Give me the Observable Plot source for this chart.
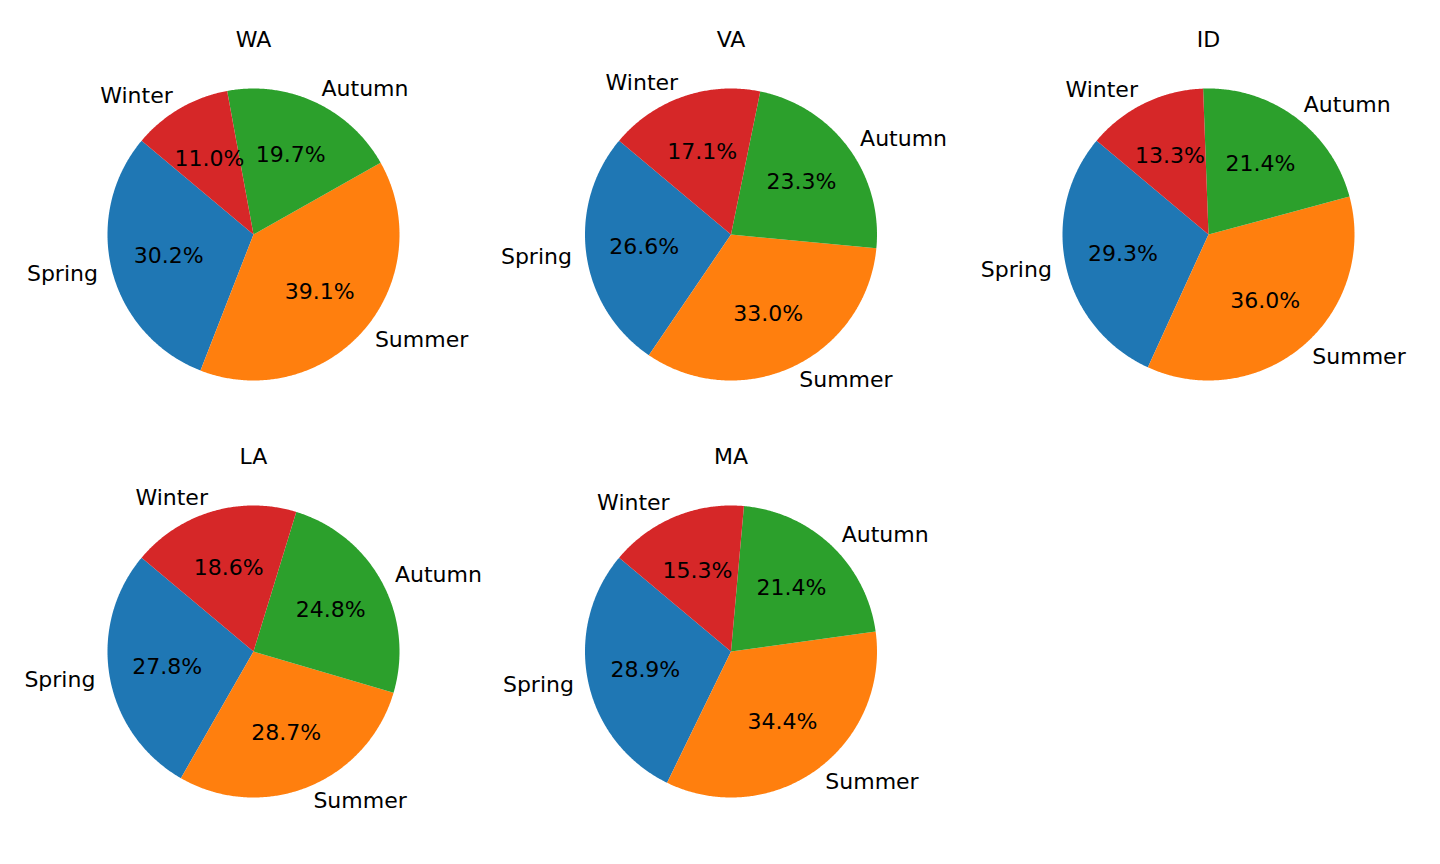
<!DOCTYPE html>
<html>
<head>
<meta charset="utf-8">
<script src="https://cdn.jsdelivr.net/npm/d3@7"></script>
<script src="https://cdn.jsdelivr.net/npm/@observablehq/plot@0.6"></script>
<style>
  html, body { margin: 0; padding: 0; background: white; }
  #chart svg { display: block; }
</style>
</head>
<body>
<div id="chart"></div>
<script>
// ---- Data ----
const states = ["WA", "VA", "ID", "LA", "MA"];
const seasons = ["Spring", "Summer", "Autumn", "Winter"];
const spring = [30.2, 26.6, 29.3, 27.8, 28.9];
const summer = [39.1, 33.0, 36.0, 28.7, 34.4];
const autumn = [19.7, 23.3, 21.4, 24.8, 21.4];
const winter = [11.0, 17.1, 13.3, 18.6, 15.3];
const colors = ["#1f77b4", "#ff7f0e", "#2ca02c", "#d62728"];

// ---- Layout (matplotlib-like 2x3 grid) ----
const W = 1440, H = 864;
const ncols = 3;
const x0 = 253, dxCol = 477.5;
const y0 = 234, dyRow = 417;
const R = 146;
const startAngle = 140; // degrees, counter-clockwise

const seriesVals = [spring, summer, autumn, winter];

const slicePts = [];
const labels = [];
const pcts = [];
const titles = [];

states.forEach((st, i) => {
  const col = i % ncols, row = Math.floor(i / ncols);
  const cx = x0 + col * dxCol, cy = y0 + row * dyRow;
  const vals = seriesVals.map(s => s[i]);
  const total = d3.sum(vals);
  let a = startAngle;
  titles.push({x: cx, y: cy - 1.25 * R - 12, text: st});
  vals.forEach((v, k) => {
    const span = 360 * v / total;
    const a1 = a, a2 = a + span;
    const id = st + "-" + seasons[k];
    slicePts.push({id, season: seasons[k], x: cx, y: cy});
    const n = Math.max(2, Math.ceil(span * 2));
    for (let j = 0; j <= n; j++) {
      const t = (a1 + (a2 - a1) * j / n) * Math.PI / 180;
      slicePts.push({id, season: seasons[k], x: cx + R * Math.cos(t), y: cy - R * Math.sin(t)});
    }
    slicePts.push({id, season: seasons[k], x: cx, y: cy});
    const m = ((a1 + a2) / 2) * Math.PI / 180;
    const lx = 1.1 * R * Math.cos(m), ly = 1.1 * R * Math.sin(m);
    labels.push({x: cx + lx, y: cy - ly, text: seasons[k], side: lx >= 0 ? "left" : "right"});
    pcts.push({x: cx + 0.6 * R * Math.cos(m), y: cy - 0.6 * R * Math.sin(m), text: v.toFixed(1) + "%"});
    a = a2;
  });
});

const font = {fontFamily: "DejaVu Sans", fontSize: 22, fill: "black"};

const chart = Plot.plot({
  width: W,
  height: H,
  margin: 0,
  x: {domain: [0, W], range: [0, W], axis: null},
  y: {domain: [0, H], range: [0, H], axis: null},
  color: {domain: seasons, range: colors},
  style: {background: "white", color: "black", fontFamily: "DejaVu Sans"},
  marks: [
    Plot.line(slicePts, {x: "x", y: "y", z: "id", fill: "season", stroke: "none", curve: "linear"}),
    Plot.text(labels.filter(d => d.side === "left"), {x: "x", y: "y", text: "text", textAnchor: "start", lineAnchor: "middle", ...font}),
    Plot.text(labels.filter(d => d.side === "right"), {x: "x", y: "y", text: "text", textAnchor: "end", lineAnchor: "middle", ...font}),
    Plot.text(pcts, {x: "x", y: "y", text: "text", textAnchor: "middle", lineAnchor: "middle", ...font}),
    Plot.text(titles, {x: "x", y: "y", text: "text", textAnchor: "middle", lineAnchor: "middle", ...font})
  ]
});
document.getElementById("chart").appendChild(chart);
</script>
</body>
</html>
